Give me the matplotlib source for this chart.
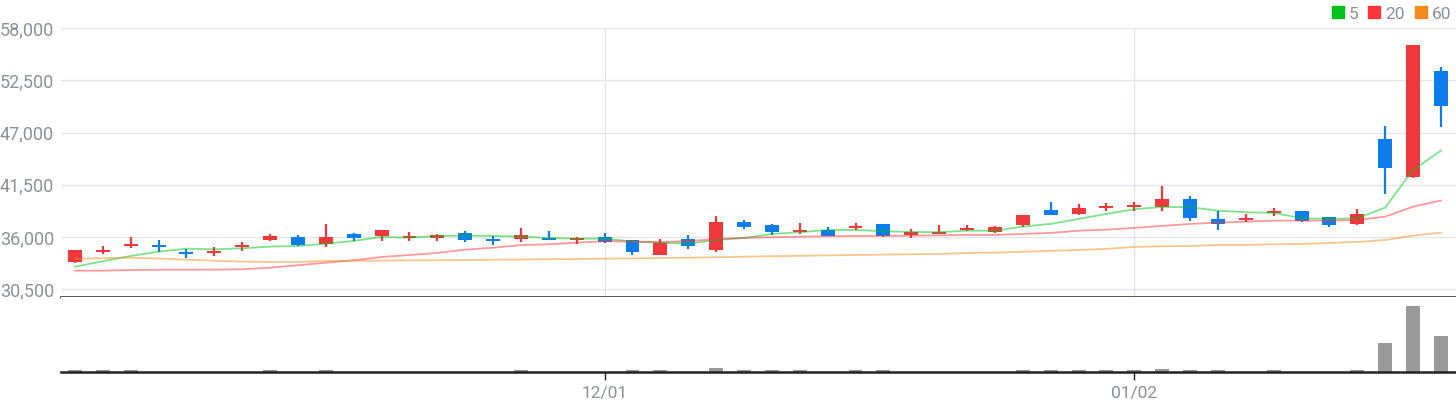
"""Candlestick chart with 5/20/60 moving averages and a volume panel."""
import matplotlib
matplotlib.use("Agg")
import matplotlib.pyplot as plt
from matplotlib.lines import Line2D
from matplotlib.ticker import FuncFormatter

# ---- data ----
opens = [33410, 34450, 35050, 35200, 34350, 34350, 34960, 35690, 36010, 35270,
         36330, 36150, 35900, 35940, 36430, 35800, 35830, 35900, 35730, 36010,
         35690, 34150, 35800, 34670, 37590, 37270, 36540, 36750, 36960, 37380,
         36250, 36360, 36750, 36570, 37270, 38860, 38430, 39100, 39170, 39170,
         40010, 37910, 37800, 38540, 38750, 38120, 37380, 46340, 42360, 53500]
highs = [34640, 35050, 36000, 35700, 34780, 34930, 35480, 36330, 36220, 37380,
         36430, 36750, 36540, 36330, 36640, 36120, 36960, 36640, 36010, 36430,
         35690, 35800, 36220, 38220, 37800, 37380, 37490, 37060, 37490, 37380,
         36850, 37270, 37270, 37170, 38330, 39700, 39490, 39590, 39700, 41380,
         40330, 38750, 38430, 39070, 38750, 38120, 38960, 47700, 56240, 53920]
lows = [33300, 34200, 34800, 34450, 33830, 34000, 34570, 35620, 35060, 34990,
        35620, 35620, 35620, 35620, 35520, 35200, 35520, 35730, 35300, 35410,
        34150, 34150, 34780, 34460, 36850, 36250, 36330, 36150, 36780, 36040,
        35940, 36360, 36640, 36460, 37060, 38330, 38330, 38780, 38780, 38780,
        37730, 36750, 37590, 38220, 37590, 37060, 37270, 40570, 42260, 47530]
closes = [34640, 34650, 35250, 34900, 34200, 34570, 35170, 36120, 35200, 36010,
          35940, 36750, 36120, 36220, 35730, 35620, 36220, 35730, 35900, 35520,
          34460, 35380, 35090, 37590, 37060, 36570, 36750, 36150, 37170, 36150,
          36540, 36540, 36960, 37060, 38330, 38330, 39070, 39280, 39380, 40010,
          38040, 37410, 38010, 38750, 37700, 37270, 38430, 43310, 56240, 49840]

ma5 = [32880, 33450, 34010, 34460, 34780, 34710, 34820, 34990, 35060, 35300,
       35590, 36010, 35940, 36120, 36150, 36120, 36040, 35900, 35830, 35830,
       35520, 35410, 35300, 35690, 35900, 36330, 36510, 36750, 36750, 36610,
       36540, 36510, 36670, 36670, 37100, 37380, 37910, 38430, 38930, 39170,
       39140, 38780, 38610, 38540, 37980, 37910, 37980, 39100, 43070, 45100]
ma20 = [32460, 32460, 32530, 32560, 32560, 32570, 32610, 32780, 33030, 33300,
        33560, 33900, 34110, 34330, 34670, 34880, 35150, 35240, 35410, 35560,
        35520, 35480, 35560, 35800, 35910, 35980, 36040, 36080, 36120, 36120,
        36150, 36180, 36220, 36220, 36330, 36430, 36670, 36780, 36960, 37170,
        37380, 37520, 37620, 37730, 37730, 37730, 37800, 38150, 39200, 39840]
ma60 = [33720, 33780, 33830, 33730, 33620, 33510, 33410, 33380, 33380, 33480,
        33500, 33520, 33540, 33560, 33580, 33610, 33640, 33660, 33680, 33720,
        33760, 33790, 33830, 33880, 33930, 33980, 34030, 34070, 34110, 34150,
        34190, 34220, 34320, 34360, 34450, 34540, 34640, 34750, 34960, 35030,
        35060, 35170, 35170, 35240, 35270, 35380, 35480, 35690, 36150, 36460]

volumes = [2.5, 2.5, 2.5, 0.3, 0.3, 0.3, 0.3, 2.5, 0.3, 2.5,
           0.3, 0.3, 0.3, 0.3, 0.3, 0.3, 2.5, 0.3, 0.3, 0.3,
           2.5, 2.5, 0.3, 6, 2.5, 2.5, 2.5, 0.3, 2.5, 2.5,
           0.3, 0.3, 0.3, 0.3, 2.5, 2.5, 2.5, 2.5, 2.5, 4,
           2.5, 2.5, 0.3, 2.5, 0.3, 0.3, 2.5, 44, 100, 54]

date_tick_idx = [19, 38]
date_tick_labels = ["12/01", "01/02"]
price_ticks = [30500, 36000, 41500, 47000, 52500, 58000]
ma_labels = ["5", "20", "60"]

# ---- style ----
UP, DOWN = "#ee383c", "#0f7ceb"
MA_COLORS = ["#00c21c", "#ff333a", "#f58a1f"]
GRID = "#e1e4ea"
TEXT = "#8d9099"
plt.rcParams["font.family"] = ["Roboto", "DejaVu Sans"]

fig = plt.figure(figsize=(14.56, 4.0), dpi=100)
ax = fig.add_axes([61 / 1456, 1 - 297 / 400, 1 - 61 / 1456, 269 / 400])
axv = fig.add_axes([61 / 1456, 1 - 372 / 400, 1 - 61 / 1456, 75 / 400], sharex=ax)

x = list(range(len(opens)))
colors = [UP if c >= o else DOWN for o, c in zip(opens, closes)]
bottoms = [min(o, c) for o, c in zip(opens, closes)]
heights = [max(abs(c - o), 180) for o, c in zip(opens, closes)]

ax.vlines(x, lows, highs, colors=colors, linewidth=1.6, zorder=2)
ax.bar(x, heights, bottom=bottoms, width=0.5, color=colors, zorder=3)
for series, col in zip([ma5, ma20, ma60], MA_COLORS):
    ax.plot(x, series, color=col, alpha=0.5, linewidth=1.3, zorder=4)

ax.set_xlim(-0.5, len(x) - 0.46)
ax.set_ylim(29690, 58000)
ax.set_yticks(price_ticks)
ax.yaxis.set_major_formatter(FuncFormatter(lambda v, _: f"{int(v):,}"))
ax.grid(axis="y", color=GRID, linewidth=0.9)
for t in date_tick_idx:
    ax.axvline(t, color=GRID, linewidth=0.9, zorder=0)
ax.set_axisbelow(True)
ax.tick_params(axis="y", length=0, pad=5, labelsize=13, labelcolor=TEXT)
ax.tick_params(axis="x", length=0, labelbottom=False)
for side in ["top", "right", "left"]:
    ax.spines[side].set_visible(False)
ax.spines["bottom"].set_color("#222222")
ax.spines["bottom"].set_linewidth(1.8)
ax.spines["bottom"].set_zorder(5)

# volume panel
axv.bar(x, volumes, width=0.5, color="#9a9a9a")
axv.set_ylim(0, 113.6)
axv.set_yticks([])
axv.set_xticks(date_tick_idx)
axv.set_xticklabels(date_tick_labels)
axv.tick_params(axis="x", length=6, width=1, color="#222222", pad=4,
                labelsize=12.5, labelcolor=TEXT)
for side in ["top", "right", "left"]:
    axv.spines[side].set_visible(False)
axv.spines["bottom"].set_color("#222222")
axv.spines["bottom"].set_linewidth(1.8)

handles = [Line2D([], [], marker="s", linestyle="None", markersize=8,
                  markerfacecolor=c, markeredgecolor=c) for c in MA_COLORS]
fig.legend(handles, ma_labels, loc="upper right", bbox_to_anchor=(1.004, 1.01),
           ncol=3, frameon=False, fontsize=12.5, labelcolor=TEXT,
           handletextpad=0.35, columnspacing=0.6, handlelength=0.6,
           borderaxespad=0.2)

fig.savefig("out.png", dpi=100)
